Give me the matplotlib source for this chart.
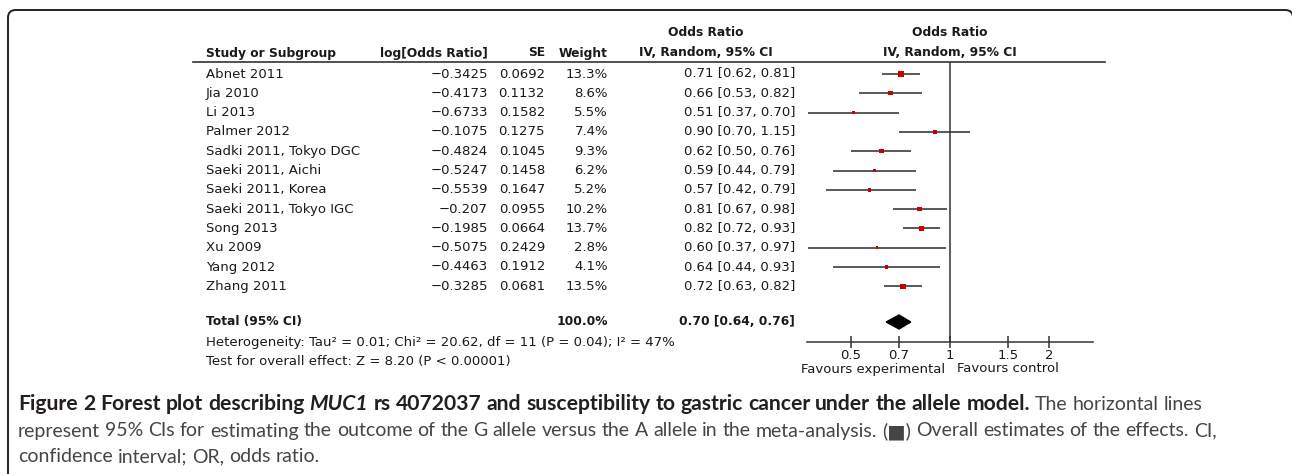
import numpy as np
import matplotlib
matplotlib.use("Agg")
import matplotlib.pyplot as plt
from matplotlib import transforms
from matplotlib.patches import FancyBboxPatch, Polygon
from matplotlib.lines import Line2D
from matplotlib.ticker import NullLocator

W, H = 1292, 474

studies = ["Abnet 2011", "Jia 2010", "Li 2013", "Palmer 2012", "Sadki 2011, Tokyo DGC",
           "Saeki 2011, Aichi", "Saeki 2011, Korea", "Saeki 2011, Tokyo IGC", "Song 2013",
           "Xu 2009", "Yang 2012", "Zhang 2011"]
log_or = [-0.3425, -0.4173, -0.6733, -0.1075, -0.4824, -0.5247, -0.5539, -0.207,
          -0.1985, -0.5075, -0.4463, -0.3285]
se = [0.0692, 0.1132, 0.1582, 0.1275, 0.1045, 0.1458, 0.1647, 0.0955, 0.0664,
      0.2429, 0.1912, 0.0681]
weight = [13.3, 8.6, 5.5, 7.4, 9.3, 6.2, 5.2, 10.2, 13.7, 2.8, 4.1, 13.5]
odds = [0.71, 0.66, 0.51, 0.90, 0.62, 0.59, 0.57, 0.81, 0.82, 0.60, 0.64, 0.72]
ci_lo = [0.62, 0.53, 0.37, 0.70, 0.50, 0.44, 0.42, 0.67, 0.72, 0.37, 0.44, 0.63]
ci_hi = [0.81, 0.82, 0.70, 1.15, 0.76, 0.79, 0.79, 0.98, 0.93, 0.97, 0.93, 0.82]
total_or, total_lo, total_hi = 0.70, 0.64, 0.76
total_weight = 100.0
ticks = [0.5, 0.7, 1, 1.5, 2]
tick_labels = ["0.5", "0.7", "1", "1.5", "2"]
heterogeneity = "Heterogeneity: Tau² = 0.01; Chi² = 20.62, df = 11 (P = 0.04); I² = 47%"
overall = "Test for overall effect: Z = 8.20 (P < 0.00001)"

# layout in reference pixels
ROW0, STEP = 74, 19.3
TXT = "#1a1a1a"
LINE = "#333333"
FS = 9.5      # regular table text
FSB = 8.8     # bold table text


def px(x):
    return x / W


def py(y):
    return 1 - y / H


def row(y):
    return (y - ROW0) / STEP


fig = plt.figure(figsize=(W / 100, H / 100), dpi=100)
plt.rcParams["font.family"] = "DejaVu Sans"

# frame with rounded corners (bottom runs off the canvas)
fig.add_artist(FancyBboxPatch((px(8), py(500)), px(1293) - px(8), py(10) - py(500),
                              boxstyle="round,pad=0,rounding_size=0.006",
                              transform=fig.transFigure, fc="none", ec="#222222",
                              lw=1.4, mutation_aspect=W / H))

# ---- forest panel --------------------------------------------------------
ax = fig.add_axes([px(807), py(342), px(1093) - px(807), (342 - 62) / H])
ax.set_xscale("log")
ax.set_xlim(np.exp(-1), np.exp(1))
ax.set_ylim(row(342), row(62))
for s in ["top", "left", "right"]:
    ax.spines[s].set_visible(False)
ax.spines["bottom"].set_color(LINE)
ax.spines["bottom"].set_linewidth(1.1)
ax.set_yticks([])
ax.set_xticks(ticks)
ax.set_xticklabels(tick_labels)
ax.xaxis.set_minor_locator(NullLocator())
ax.tick_params(axis="x", direction="inout", length=8, width=1.1, color=LINE,
               labelsize=FS, labelcolor=TXT, pad=1)
ax.patch.set_alpha(0)

ys = np.arange(len(studies))
ax.axvline(1, color=LINE, lw=1.1, zorder=1)
ax.hlines(ys, ci_lo, ci_hi, color="#3c3c3c", lw=1.2, zorder=2)
side_pt = 1.5 * np.sqrt(weight) * 0.72
ax.scatter(odds, ys, marker="s", s=side_pt ** 2, color="#cc0000", lw=0, zorder=3)

y_tot = row(322)
h = 7 / STEP
ax.add_patch(Polygon([(total_lo, y_tot), (total_or, y_tot - h), (total_hi, y_tot),
                      (total_or, y_tot + h)], closed=True, color="black", zorder=3))

# ---- table ---------------------------------------------------------------
tr = transforms.blended_transform_factory(fig.transFigure, ax.transData)
fig.add_artist(Line2D([px(193), px(1105)], [py(62)] * 2, color=LINE, lw=1.2))

hdr = dict(transform=tr, fontsize=FSB, weight="bold", color=TXT, va="center")
y1, y2 = row(33), row(53)
ax.text(px(206), y2, "Study or Subgroup", ha="left", **hdr)
ax.text(px(488), y2, "log[Odds Ratio]", ha="right", **hdr)
ax.text(px(545), y2, "SE", ha="right", **hdr)
ax.text(px(608), y2, "Weight", ha="right", **hdr)
ax.text(px(706), y1, "Odds Ratio", ha="center", **hdr)
ax.text(px(706), y2, "IV, Random, 95% CI", ha="center", **hdr)
ax.text(px(950), y1, "Odds Ratio", ha="center", **hdr)
ax.text(px(950), y2, "IV, Random, 95% CI", ha="center", **hdr)

cell = dict(transform=tr, color=TXT, va="center")
for i, name in enumerate(studies):
    ax.text(px(206), i, name, ha="left", fontsize=FS, **cell)
    ax.text(px(488), i, f"{log_or[i]:g}".replace("-", "\u2212"), ha="right", fontsize=FS, **cell)
    ax.text(px(545), i, f"{se[i]:.4f}", ha="right", fontsize=FS, **cell)
    ax.text(px(608), i, f"{weight[i]:.1f}%", ha="right", fontsize=FS, **cell)
    ax.text(px(795), i, f"{odds[i]:.2f} [{ci_lo[i]:.2f}, {ci_hi[i]:.2f}]", ha="right",
            fontsize=FS, **cell)

ax.text(px(206), y_tot, "Total (95% CI)", ha="left", weight="bold", fontsize=FSB, **cell)
ax.text(px(608), y_tot, f"{total_weight:.1f}%", ha="right", weight="bold", fontsize=FSB, **cell)
ax.text(px(795), y_tot, f"{total_or:.2f} [{total_lo:.2f}, {total_hi:.2f}]",
        ha="right", weight="bold", fontsize=FSB, **cell)
ax.text(px(206), row(343), heterogeneity, ha="left", fontsize=FS, **cell)
ax.text(px(206), row(362), overall, ha="left", fontsize=FS, **cell)

fig.text(px(945), py(369), "Favours experimental", ha="right", va="center",
         fontsize=FS, color=TXT)
fig.text(px(957), py(369), "Favours control", ha="left", va="center",
         fontsize=FS, color=TXT)

# ---- caption -------------------------------------------------------------
CAP = ["Lato", "DejaVu Sans"]
renderer = fig.canvas.get_renderer()


def width_of(s, **kw):
    t = fig.text(0, 0, s, family=CAP, **kw)
    w = t.get_window_extent(renderer).width
    t.remove()
    return w


def caption_line(y, pieces):
    x = 18
    for s, kw in pieces:
        words = s.split(" ")
        gap = width_of("x x", **kw) - width_of("xx", **kw)
        for k, wd in enumerate(words):
            if wd:
                t = fig.text(px(x), py(y), wd, family=CAP, va="center", **kw)
                x += t.get_window_extent(renderer).width
            if k < len(words) - 1:
                x += gap


B = dict(weight="bold", color="#231f20", fontsize=15.2)
BI = dict(weight="bold", style="italic", color="#231f20", fontsize=15.2)
R = dict(color="#454545", fontsize=14)
caption_line(404, [("Figure 2 Forest plot describing ", B), ("MUC1", BI),
                   (" rs 4072037 and susceptibility to gastric cancer under the allele model.", B),
                   (" The horizontal lines", R)])
caption_line(431, [("represent 95% CIs for estimating the outcome of the G allele versus the A "
                    "allele in the meta-analysis. (\u25a0) Overall estimates of the effects. CI,", R)])
caption_line(457, [("confidence interval; OR, odds ratio.", R)])

fig.savefig("out.png", dpi=100)
